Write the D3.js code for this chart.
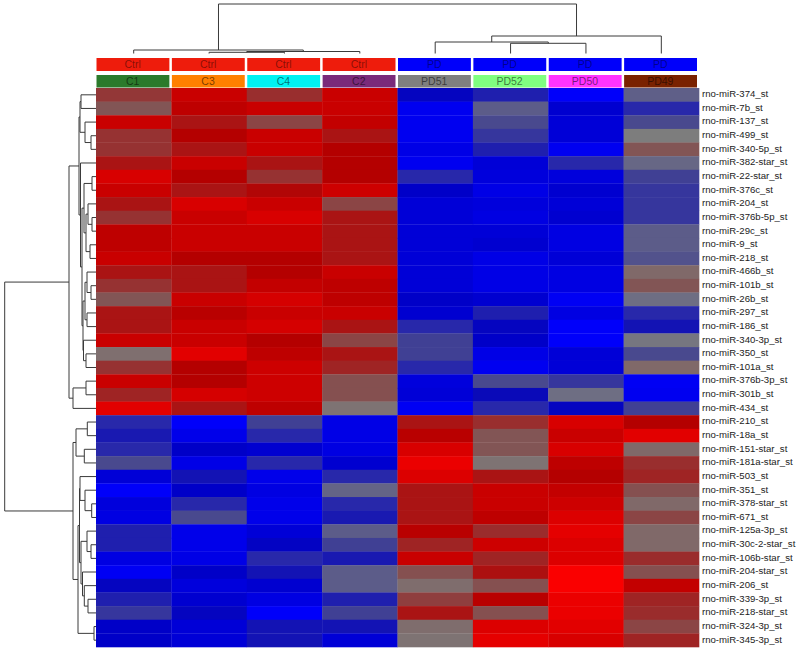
<!DOCTYPE html>
<html><head><meta charset="utf-8">
<script src="https://cdn.jsdelivr.net/npm/d3@7"></script>
<style>html,body{margin:0;padding:0;background:#fff;}svg{display:block;}</style>
</head><body>
<svg id="chart" width="800" height="654"></svg>
<script>
// ---------- data ----------
const samples = ["C1","C3","C4","C2","PD51","PD52","PD50","PD49"];
const groups  = ["Ctrl","Ctrl","Ctrl","Ctrl","PD","PD","PD","PD"];
const groupColors = {Ctrl:"#ee1c0c", PD:"#0000fa"};
const sampleColors = ["#2b7a2b","#ff8000","#00f2f2","#7a2a7a","#7f7f7f","#80ff80","#ff33ff","#7a2200"];
const rowLabels = ["rno-miR-374_st","rno-miR-7b_st","rno-miR-137_st","rno-miR-499_st","rno-miR-340-5p_st","rno-miR-382-star_st","rno-miR-22-star_st","rno-miR-376c_st","rno-miR-204_st","rno-miR-376b-5p_st","rno-miR-29c_st","rno-miR-9_st","rno-miR-218_st","rno-miR-466b_st","rno-miR-101b_st","rno-miR-26b_st","rno-miR-297_st","rno-miR-186_st","rno-miR-340-3p_st","rno-miR-350_st","rno-miR-101a_st","rno-miR-376b-3p_st","rno-miR-301b_st","rno-miR-434_st","rno-miR-210_st","rno-miR-18a_st","rno-miR-151-star_st","rno-miR-181a-star_st","rno-miR-503_st","rno-miR-351_st","rno-miR-378-star_st","rno-miR-671_st","rno-miR-125a-3p_st","rno-miR-30c-2-star_st","rno-miR-106b-star_st","rno-miR-204-star_st","rno-miR-206_st","rno-miR-339-3p_st","rno-miR-218-star_st","rno-miR-324-3p_st","rno-miR-345-3p_st"];

// scaled expression per sample (row order as rowLabels)
const valC1   = [0.33,0.2,0.77,0.35,0.35,0.5,0.87,0.77,0.5,0.35,0.7,0.7,0.77,0.5,0.35,0.2,0.5,0.5,0.77,0.07,0.35,0.77,0.42,0.92,-0.5,-0.55,-0.5,-0.33,-0.8,-1.0,-0.83,-0.87,-0.53,-0.53,-0.87,-0.97,-0.65,-0.53,-0.43,-0.7,-0.7];
const valC3   = [0.77,0.7,0.5,0.6,0.5,0.77,0.6,0.5,0.87,0.77,0.77,0.77,0.6,0.5,0.5,0.77,0.65,0.77,0.77,0.92,0.6,0.6,0.85,0.5,-1.0,-0.92,-0.7,-0.9,-0.57,-0.7,-0.5,-0.33,-0.92,-0.92,-0.9,-0.7,-0.83,-0.75,-0.65,-0.8,-0.8];
const valC4   = [0.37,0.77,0.27,0.77,0.77,0.5,0.35,0.57,0.77,0.87,0.77,0.77,0.6,0.6,0.73,0.85,0.77,0.85,0.6,0.7,0.8,0.8,0.8,0.7,-0.38,-0.5,-0.75,-0.5,-0.92,-0.87,-0.92,-0.92,-0.8,-0.67,-0.5,-0.57,-0.75,-0.87,-1.0,-0.57,-0.57];
const valC2   = [0.77,0.77,0.73,0.5,0.6,0.6,0.6,0.8,0.27,0.5,0.5,0.5,0.5,0.77,0.7,0.7,0.77,0.5,0.27,0.5,0.42,0.22,0.22,0.05,-0.9,-0.9,-0.87,-0.75,-0.5,-0.17,-0.5,-0.55,-0.22,-0.38,-0.55,-0.22,-0.22,-0.53,-0.38,-0.57,-0.8];
const valPD51 = [-0.65,-0.95,-0.95,-0.95,-0.9,-0.95,-0.5,-0.7,-0.8,-0.8,-0.8,-0.8,-0.8,-0.8,-0.8,-0.7,-0.75,-0.5,-0.38,-0.38,-0.5,-0.83,-0.8,-0.97,0.5,0.65,0.87,0.95,0.9,0.5,0.5,0.5,0.65,0.42,0.77,0.22,0.08,0.3,0.5,0.08,0.05];
const valPD52 = [-0.53,-0.22,-0.33,-0.43,-0.53,-0.8,-0.83,-0.9,-0.83,-0.87,-0.8,-0.75,-0.9,-0.9,-0.9,-0.75,-0.53,-0.65,-0.7,-0.9,-0.95,-0.33,-0.6,-0.5,0.37,0.2,0.2,0.05,0.5,0.77,0.77,0.7,0.38,0.8,0.42,0.52,0.22,0.65,0.22,0.9,0.93];
const valPD50 = [-1.0,-0.75,-0.8,-0.8,-0.95,-0.5,-0.83,-0.75,-0.8,-0.75,-0.87,-0.87,-0.8,-0.87,-0.87,-0.97,-0.87,-1.0,-1.0,-0.8,-0.8,-0.43,-0.1,-0.65,0.87,0.77,0.87,0.7,0.6,0.73,0.8,0.9,0.93,0.9,0.9,1.0,1.0,0.95,0.95,0.92,0.87];
const valPD49 = [-0.2,-0.5,-0.33,0.0,0.2,-0.15,-0.38,-0.43,-0.43,-0.43,-0.22,-0.22,-0.28,0.1,0.2,-0.1,-0.5,-0.57,-0.05,-0.33,0.1,-0.97,-0.95,-0.38,0.6,0.92,0.1,0.37,0.42,0.22,0.1,0.27,0.1,0.1,0.38,0.22,0.73,0.42,0.38,0.27,0.42];

// hclust-style merges: negative = leaf (1-based), positive = earlier merge; third = height
const rowMerge = [
 [-4,-5,5],[-3,1,11],[-1,-2,15],[3,2,16],
 [-7,-8,4],[-10,-11,4],[-9,6,8],[-12,-13,6],[7,8,10],[5,9,12],
 [-15,-16,5],[-14,11,9],[-17,-18,9],[12,13,11],[-20,-21,10],[-19,15,12.5],[14,16,13],
 [10,17,14],[-6,18,15.5],[4,19,17],[-22,-23,10],[21,-24,23],[20,22,27],
 [-25,-26,8.7],[-27,-28,11.7],[24,25,20],
 [-31,-32,4.3],[-30,27,11],[-29,28,16],[-34,-35,5],[-33,30,9],[-38,-39,8],[-37,32,11.7],[-36,33,13.5],[31,34,15],[29,35,16.5],
 [-40,-41,2],[36,37,18],[26,38,23],[23,39,91.3]
];
const colMerge = [[-2,-3,1.2],[1,-4,2],[-1,2,3.5],[-6,-7,10.2],[-5,4,11.5],[5,-8,17.5],[3,6,49.5]];

// ---------- drawing ----------
const svg = d3.select("#chart");
const colVals = [valC1,valC3,valC4,valC2,valPD51,valPD52,valPD50,valPD49];
const cells = [];
colVals.forEach((arr,j)=>arr.forEach((v,i)=>cells.push({row:i,col:j,v})));

const x = d3.scaleBand().domain(d3.range(samples.length)).range([96,699]).padding(0);
const y = d3.scaleBand().domain(d3.range(rowLabels.length)).range([88,647]).padding(0);

const color = d3.scaleLinear()
  .domain([-1,-0.9,-0.8,-0.7,-0.6,-0.5,-0.35,-0.2,0,0.2,0.35,0.5,0.6,0.7,0.8,0.9,1])
  .range(["#0000fa","#0000e6","#0000d7","#0000c8","#0a0ab8","#2828aa","#46468f","#5f5f88","#7d7d7d",
          "#825555","#963232","#aa1414","#b40000","#be0000","#cd0000","#dc0000","#fa0000"])
  .clamp(true);

svg.append("g").selectAll("rect").data(cells).join("rect")
  .attr("x",d=>x(d.col)).attr("y",d=>y(d.row))
  .attr("width",x.bandwidth()+0.3).attr("height",y.bandwidth()+0.3)
  .attr("fill",d=>color(d.v));

// annotation bars
const bars = svg.append("g").attr("font-family","Liberation Sans, Arial, sans-serif").attr("font-size",10.5);
samples.forEach((s,j)=>{
  bars.append("rect").attr("x",x(j)+0.5).attr("y",58).attr("width",x.bandwidth()-2.5).attr("height",13)
    .attr("fill",groupColors[groups[j]]);
  bars.append("text").attr("x",x(j)+x.bandwidth()/2-1).attr("y",64.5).attr("dy","0.35em")
    .attr("text-anchor","middle").attr("fill","#000").attr("fill-opacity",0.45).text(groups[j]);
  bars.append("rect").attr("x",x(j)+0.5).attr("y",75).attr("width",x.bandwidth()-2.5).attr("height",12.5)
    .attr("fill",sampleColors[j]);
  bars.append("text").attr("x",x(j)+x.bandwidth()/2-1).attr("y",81.3).attr("dy","0.35em")
    .attr("text-anchor","middle").attr("fill","#000").attr("fill-opacity",0.55).text(s);
});

// row labels
svg.append("g").attr("font-family","Liberation Sans, Arial, sans-serif").attr("font-size",9.6).attr("fill","#222")
  .selectAll("text").data(rowLabels).join("text")
  .attr("x",702).attr("y",(d,i)=>y(i)+y.bandwidth()/2-1).attr("dy","0.35em").text(d=>d);

// dendrogram helper
function layout(merges, leafPos){
  const nodes = [];
  const get = k => k<0 ? {pos:leafPos(-k-1), h:0} : nodes[k-1];
  merges.forEach(([a,b,h])=>{
    const A=get(a), B=get(b);
    nodes.push({pos:(A.pos+B.pos)/2, h, a:A, b:B});
  });
  return nodes;
}
const stroke = "#3a3a3a";
// column dendrogram
const hy = d3.scaleLinear().domain([0,49.5]).range([53.5,4]);
const cNodes = layout(colMerge, j=>x(j)+x.bandwidth()/2);
const cg = svg.append("g").attr("stroke",stroke).attr("stroke-width",1).attr("fill","none");
cNodes.forEach(n=>{
  const p = `M${n.a.pos},${hy(n.a.h)}V${hy(n.h)}H${n.b.pos}V${hy(n.b.h)}`;
  cg.append("path").attr("d",p);
});
// row dendrogram
const hx = d3.scaleLinear().domain([0,91.3]).range([96,4.7]);
const rNodes = layout(rowMerge, i=>y(i)+y.bandwidth()/2);
const rg = svg.append("g").attr("stroke",stroke).attr("stroke-width",1).attr("fill","none");
rNodes.forEach(n=>{
  const p = `M${hx(n.a.h)},${n.a.pos}H${hx(n.h)}V${n.b.pos}H${hx(n.b.h)}`;
  rg.append("path").attr("d",p);
});
</script>
</body></html>
